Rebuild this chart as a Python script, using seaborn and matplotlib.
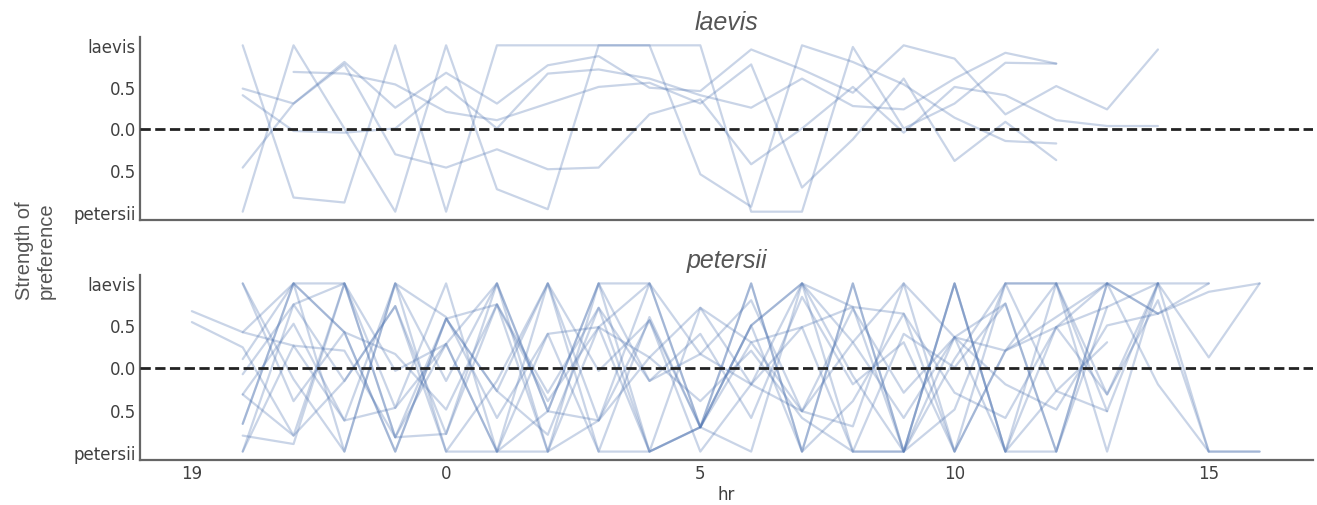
import numpy as np
import pandas as pd
import matplotlib
matplotlib.use("Agg")
import matplotlib.pyplot as plt
import seaborn as sns

nan = np.nan

# ---------------- data ----------------
laevis_hours = list(range(-4, 15))
laevis_lines = {
    "L1": [1.0, -0.83, -0.89, 1.0, -1.0, 1.0, 1.0, 1.0, 1.0, 1.0, -1.0, -1.0, 0.98, 0.0, 0.3, 0.79, 0.78, nan, nan],
    "L2": [-1.0, 1.0, 0.0, -1.0, 1.0, -0.73, -0.97, 1.0, 1.0, -0.55, -0.94, 1.0, 0.8, 0.53, 0.13, -0.15, -0.18, nan, nan],
    "L3": [0.48, 0.30, 0.80, 0.25, 0.67, 0.3, 0.76, 0.87, 0.49, 0.45, 0.95, 0.71, 0.43, 1.0, 0.84, 0.17, 0.51, 0.23, 0.95],
    "L4": [0.40, -0.03, -0.05, 0.0, 0.5, 0.0, 0.66, 0.71, 0.6, 0.4, 0.25, 0.6, 0.27, 0.23, 0.6, 0.91, 0.78, nan, nan],
    "L5": [-0.47, 0.30, 0.77, -0.31, -0.47, -0.25, -0.49, -0.47, 0.17, 0.35, -0.43, 0.0, 0.5, -0.05, 0.5, 0.4, 0.1, 0.03, 0.03],
    "L6": [nan, 0.68, 0.66, 0.53, 0.2, 0.1, 0.3, 0.5, 0.55, 0.3, 0.77, -0.71, -0.13, 0.6, -0.39, 0.08, -0.38, nan, nan],
}

petersii_hours = list(range(-5, 17))
petersii_lines = {
    "P01": [0.67, 0.42, 1.00, 1.00, -0.48, 1.00, -1.00, -1.00, 1.00, 1.00, -0.71, 1.00, -1.00, 1.00, -1.00, 1.00, -1.00, 1.00, 1.00, 1.00, -1.00, -1.00],
    "P02": [0.54, 0.24, -0.81, 1.00, -0.83, 0.28, 1.00, -1.00, -0.63, 0.56, -0.71, 0.50, -1.00, -0.40, 0.64, -1.00, 0.20, 1.00, -0.32, 1.00, 0.12, 1.00],
    "P03": [nan, 1.00, -0.14, -1.00, 1.00, -0.16, 1.00, -0.52, 1.00, -1.00, 0.71, 0.30, 0.48, -1.00, -1.00, 0.36, 0.76, -1.00, 1.00, 0.64, nan, nan],
    "P04": [nan, 0.10, 1.00, 0.42, -1.00, 0.58, -0.28, 1.00, -0.04, 0.56, -1.00, -0.20, 1.00, 0.72, -1.00, 1.00, -1.00, 0.48, 1.00, -0.20, -1.00, -1.00],
    "P05": [nan, -0.08, 0.75, -0.16, 0.73, -0.79, 0.75, -0.30, 0.71, -0.16, 0.40, -0.60, 0.84, -0.20, 0.30, -1.00, 0.20, 0.60, 1.00, 0.64, 0.90, 1.00],
    "P06": [nan, -0.32, 0.52, -0.63, 1.00, 0.60, -0.60, 0.40, -1.00, 0.60, -0.71, 0.30, -0.52, 0.70, -0.30, 0.36, -1.00, -0.28, -0.52, nan, nan, nan],
    "P07": [nan, -0.67, 1.00, 0.42, 0.16, -0.50, 0.75, -1.00, 0.48, 0.12, -0.40, 0.20, -0.60, -1.00, 0.40, 0.00, 0.76, -1.00, 1.00, nan, nan, nan],
    "P08": [nan, -0.81, -0.91, 1.00, -0.04, 0.28, -1.00, 1.00, -1.00, -1.00, -0.71, 0.50, 1.00, -1.00, -1.00, 0.10, 1.00, 1.00, -0.52, 1.00, nan, nan],
    "P09": [nan, -1.00, 0.26, 0.20, -0.83, 0.58, 0.75, -0.40, 0.48, 1.00, 0.16, -0.20, 0.48, 0.72, 0.64, -0.30, -0.60, 0.48, 0.72, nan, nan, nan],
    "P10": [nan, -0.67, 1.00, -1.00, 1.00, -1.00, -0.16, 1.00, -0.63, 1.00, -0.71, 1.00, -1.00, 1.00, -1.00, 1.00, -1.00, -1.00, 0.72, 1.00, nan, nan],
    "P11": [nan, 1.00, -0.40, 0.42, -1.00, 0.58, -0.28, -0.80, 0.71, -1.00, -0.71, 0.50, 1.00, -0.10, -1.00, -0.50, 1.00, -0.28, 0.30, nan, nan, nan],
    "P12": [nan, -0.32, -0.81, -0.16, 0.73, -1.00, -1.00, 0.40, 0.48, -1.00, -0.71, -1.00, 1.00, 0.30, 1.00, -1.00, 1.00, 1.00, -1.00, 1.00, 1.00, nan],
    "P13": [nan, 0.42, 0.26, -0.63, -0.48, 0.28, -1.00, -0.52, -0.63, 0.12, 0.71, -0.20, -0.52, 0.30, -0.60, 0.36, -0.20, -0.50, 0.50, 0.64, 1.00, nan],
    "P14": [nan, -1.00, 0.75, 1.00, -0.83, -0.79, 1.00, -0.52, 1.00, -0.16, 0.16, 0.80, -0.52, -0.70, 1.00, 0.36, 0.20, 0.48, -0.32, 0.80, -1.00, nan],
}

panel_titles = ["laevis", "petersii"]
xtick_pos = [-5, 0, 5, 10, 15]
xtick_labels = ["19", "0", "5", "10", "15"]
ytick_pos = [-1, -0.5, 0, 0.5, 1]
ytick_labels = ["petersii", "0.5", "0.0", "0.5", "laevis"]


def to_long(hours, lines):
    rows = []
    for name, vals in lines.items():
        for h, v in zip(hours, vals):
            if not np.isnan(v):
                rows.append({"id": name, "hr": h, "pref": v})
    return pd.DataFrame(rows)


dfs = [to_long(laevis_hours, laevis_lines), to_long(petersii_hours, petersii_lines)]

# ---------------- figure ----------------
sns.set_style("white")
plt.rcParams["font.family"] = ["DejaVu Sans"]

fig = plt.figure(figsize=(13.17, 5.06), dpi=100)
L, R = 140 / 1317, 1313 / 1317
ax_top = fig.add_axes([L, 1 - 221 / 506, R - L, (221 - 38) / 506])
ax_bot = fig.add_axes([L, 1 - 461 / 506, R - L, (461 - 276) / 506], sharex=ax_top)

line_color = "#4C72B0"
for ax, df, title in zip([ax_top, ax_bot], dfs, panel_titles):
    sns.lineplot(data=df, x="hr", y="pref", units="id", estimator=None,
                 color=line_color, alpha=0.3, lw=1.6, ax=ax, legend=False)
    ax.axhline(0, color="#222222", ls="--", lw=2.0, zorder=5)
    ax.set_ylim(-1.1, 1.1)
    ax.set_xlim(-6.02, 17.05)
    ax.set_yticks(ytick_pos)
    ax.set_yticklabels(ytick_labels)
    ax.tick_params(axis="both", labelsize=12, colors="#404040", pad=3, length=0)
    ax.set_ylabel("")
    ax.set_xlabel("")
    ax.set_title(title, fontsize=18, style="italic", color="#555555",
                 family=["Liberation Sans", "DejaVu Sans"], pad=6)
    for s in ["top", "right"]:
        ax.spines[s].set_visible(False)
    for s in ["left", "bottom"]:
        ax.spines[s].set_color("#666666")
        ax.spines[s].set_linewidth(1.6)

ax_top.tick_params(axis="x", labelbottom=False)
ax_bot.set_xticks(xtick_pos)
ax_bot.set_xticklabels(xtick_labels)
ax_bot.set_xlabel("hr", fontsize=12, color="#404040", labelpad=2)

fig.text(0.027, 0.505, "Strength of\npreference", rotation=90, ha="center", va="center",
         fontsize=14.5, color="#555555", family=["Liberation Sans", "DejaVu Sans"],
         multialignment="center")

fig.savefig("out.png", dpi=100)
